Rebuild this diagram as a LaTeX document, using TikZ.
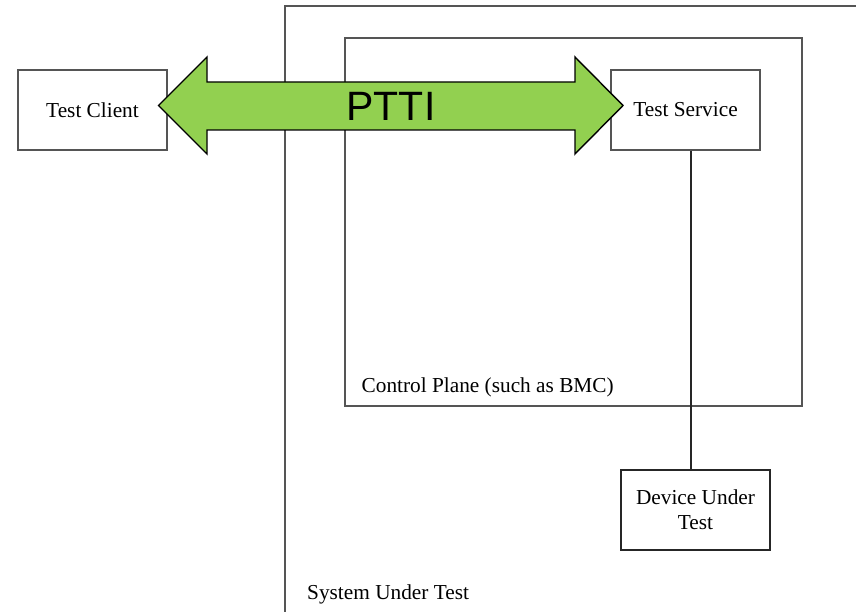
\documentclass[tikz,border=0pt]{standalone}
\usepackage{fontspec}
\setmainfont{Liberation Serif}
\newfontfamily\pttifont{Liberation Sans}
\usetikzlibrary{positioning}
\definecolor{framegray}{HTML}{555555}
\definecolor{pttigreen}{HTML}{92D050}

\begin{document}
\begin{tikzpicture}[x=1pt,y=-1pt,
  frame/.style={draw=framegray,line width=1.1pt},
  box/.style={draw=black!85,line width=1.1pt,minimum width=149,minimum height=80,
    align=center,font=\fontsize{21.3}{25}\selectfont},
  tag/.style={anchor=west,inner sep=0pt,font=\fontsize{21.3}{25}\selectfont},
  pttiarrow/.style={draw=black,line width=1.4pt,fill=pttigreen,line join=miter}]
  \clip (0,0) rectangle (856,612);
  \draw[frame] (285,6) coordinate (sut) rectangle (900,660);
  \node[frame,minimum width=457,minimum height=368] (plane) at (573.5,222) {};
  \node[tag] (planelabel) at ([xshift=17pt,yshift=19pt]plane.south west) {Control Plane (such as BMC)};
  \node[tag] (sutlabel) at (307,594) {System Under Test};
  \node[box,draw=framegray] (tc) at (92.5,110) {Test Client};
  \node[box,draw=framegray] (ts) at (685.5,110) {Test Service};
  \node[box] (dut) at (695.5,510) {Device Under\\Test};
  \draw[black!85,line width=1.1pt] ([xshift=5.5pt]ts.south) -- ([xshift=-4.5pt]dut.north);
  \draw[pttiarrow] (158.5,105.5) -- (207,57) -- (207,82) -- (575,82) -- (575,57)
    -- (623,105.5) -- (575,154) -- (575,130) -- (207,130) -- (207,154) -- cycle;
  \node[font=\pttifont\fontsize{41}{41}\selectfont,inner sep=0pt] (ptti) at (391,106.5) {PTTI};
\end{tikzpicture}
\end{document}
